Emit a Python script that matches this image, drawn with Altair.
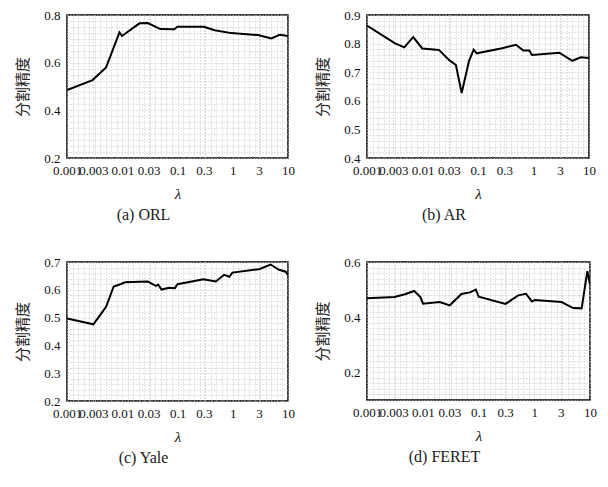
import json
import altair as alt
import pandas as pd

# ---- data ----
orl_lam = [0.001, 0.0029, 0.0051, 0.0089, 0.0099, 0.0205, 0.029, 0.049, 0.088, 0.099, 0.3, 0.47, 0.94, 2.86, 4.99, 7.06, 10]
orl_acc = [0.485, 0.527, 0.58, 0.727, 0.712, 0.765, 0.766, 0.741, 0.74, 0.751, 0.751, 0.736, 0.724, 0.716, 0.702, 0.717, 0.712]

ar_lam = [0.001, 0.0032, 0.0047, 0.0068, 0.0099, 0.0198, 0.03, 0.04, 0.0508, 0.069, 0.0836, 0.0946, 0.26, 0.484, 0.656, 0.84, 0.94, 2.92, 5.0, 7.1, 10]
ar_acc = [0.863, 0.801, 0.787, 0.823, 0.783, 0.778, 0.743, 0.725, 0.627, 0.74, 0.779, 0.766, 0.783, 0.796, 0.776, 0.776, 0.76, 0.768, 0.74, 0.752, 0.75]

yale_lam = [0.001, 0.003, 0.0051, 0.007, 0.0095, 0.0112, 0.0287, 0.0406, 0.0447, 0.0513, 0.0706, 0.0895, 0.1, 0.295, 0.493, 0.697, 0.87, 0.986, 2.99, 4.86, 6.87, 9.1, 10]
yale_acc = [0.497, 0.476, 0.539, 0.612, 0.621, 0.627, 0.630, 0.614, 0.619, 0.601, 0.607, 0.606, 0.620, 0.638, 0.630, 0.654, 0.647, 0.662, 0.674, 0.691, 0.672, 0.665, 0.653]

feret_lam = [0.001, 0.0031, 0.0048, 0.007, 0.0091, 0.0101, 0.0202, 0.0305, 0.0495, 0.07, 0.0895, 0.101, 0.305, 0.516, 0.709, 0.907, 1.02, 3.09, 5.0, 7.08, 8.96, 10]
feret_acc = [0.469, 0.473, 0.483, 0.495, 0.473, 0.449, 0.455, 0.443, 0.484, 0.490, 0.5, 0.474, 0.448, 0.479, 0.485, 0.457, 0.462, 0.455, 0.433, 0.432, 0.567, 0.518]

x_major = [0.001, 0.003, 0.01, 0.03, 0.1, 0.3, 1, 3, 10]
captions = ["(a) ORL", "(b) AR", "(c) Yale", "(d) FERET"]
y_title = "分割精度"
x_title = "λ"

SERIF = "Liberation Serif, Times New Roman, DejaVu Serif, serif"

# grid helper values (styling only)
x_grid = sorted(set([round(10 ** (k / 10), 6) for k in range(-30, 11)] + x_major))


def y_values(lo, hi, step, majors):
    n = int(round((hi - lo) / step))
    vals = set(round(lo + step * i, 4) for i in range(n + 1))
    return sorted(vals | set(majors))


GRID = dict(grid=True, gridColor="#c4c4c4", gridDash=[1, 2], gridWidth=1)


def panel(lam, acc, ydom, ymajor, ystep, caption, w, h):
    df = pd.DataFrame({"lam": lam, "acc": acc})
    xexpr = "indexof(%s, datum.value) >= 0 ? format(datum.value, '~g') : ''" % json.dumps(x_major)
    yexpr = "indexof(%s, datum.value) >= 0 ? format(datum.value, '.1f') : ''" % json.dumps(ymajor)
    return (
        alt.Chart(df)
        .mark_line(color="black", strokeWidth=2, clip=True)
        .encode(
            x=alt.X(
                "lam:Q",
                scale=alt.Scale(type="log", domain=[0.001, 10], nice=False),
                axis=alt.Axis(
                    values=x_grid, labelExpr=xexpr, ticks=False, domain=False,
                    labelOverlap=False, labelFlush=False, labelPadding=6,
                    labelFont=SERIF, labelFontSize=13, labelColor="#111",
                    title=x_title, titleFont=SERIF, titleFontStyle="italic",
                    titleFontWeight="normal", titleFontSize=15, titlePadding=9, titleColor="#111",
                    **GRID,
                ),
            ),
            y=alt.Y(
                "acc:Q",
                scale=alt.Scale(domain=ydom, nice=False, zero=False),
                axis=alt.Axis(
                    values=y_values(ydom[0], ydom[1], ystep, ymajor), labelExpr=yexpr,
                    ticks=False, domain=False, labelOverlap=False, labelFlush=False,
                    labelPadding=7, labelFont=SERIF, labelFontSize=13,
                    labelColor="#111",
                    title=y_title, titleFont="Noto Sans CJK SC", titleFontWeight="normal",
                    titleFontSize=15, titlePadding=13, titleColor="#222",
                    **GRID,
                ),
            ),
        )
        .properties(
            width=w, height=h,
            title=alt.TitleParams(
                caption, orient="bottom", font=SERIF, fontSize=16,
                fontWeight="normal", color="#222", offset=6, dx=-34,
            ),
        )
    )


a = panel(orl_lam, orl_acc, [0.2, 0.8], [0.2, 0.4, 0.6, 0.8], 0.025, captions[0], 221, 143)
b = panel(ar_lam, ar_acc, [0.4, 0.9], [0.4, 0.5, 0.6, 0.7, 0.8, 0.9], 0.02, captions[1], 222, 143)
c = panel(yale_lam, yale_acc, [0.2, 0.7], [0.2, 0.3, 0.4, 0.5, 0.6, 0.7], 0.02, captions[2], 221, 139)
d = panel(feret_lam, feret_acc, [0.1, 0.6], [0.2, 0.4, 0.6], 0.02, captions[3], 223, 138)

chart = (
    alt.vconcat(
        alt.hconcat(a, b, spacing=19),
        alt.hconcat(c, d, spacing=19),
        spacing=31,
    )
    .properties(padding={"left": 7, "top": 0, "right": 0, "bottom": 0})
    .configure_view(stroke="black", strokeWidth=1.5)
)

chart.save("out.html", embed_options={"renderer": "svg", "actions": False})
